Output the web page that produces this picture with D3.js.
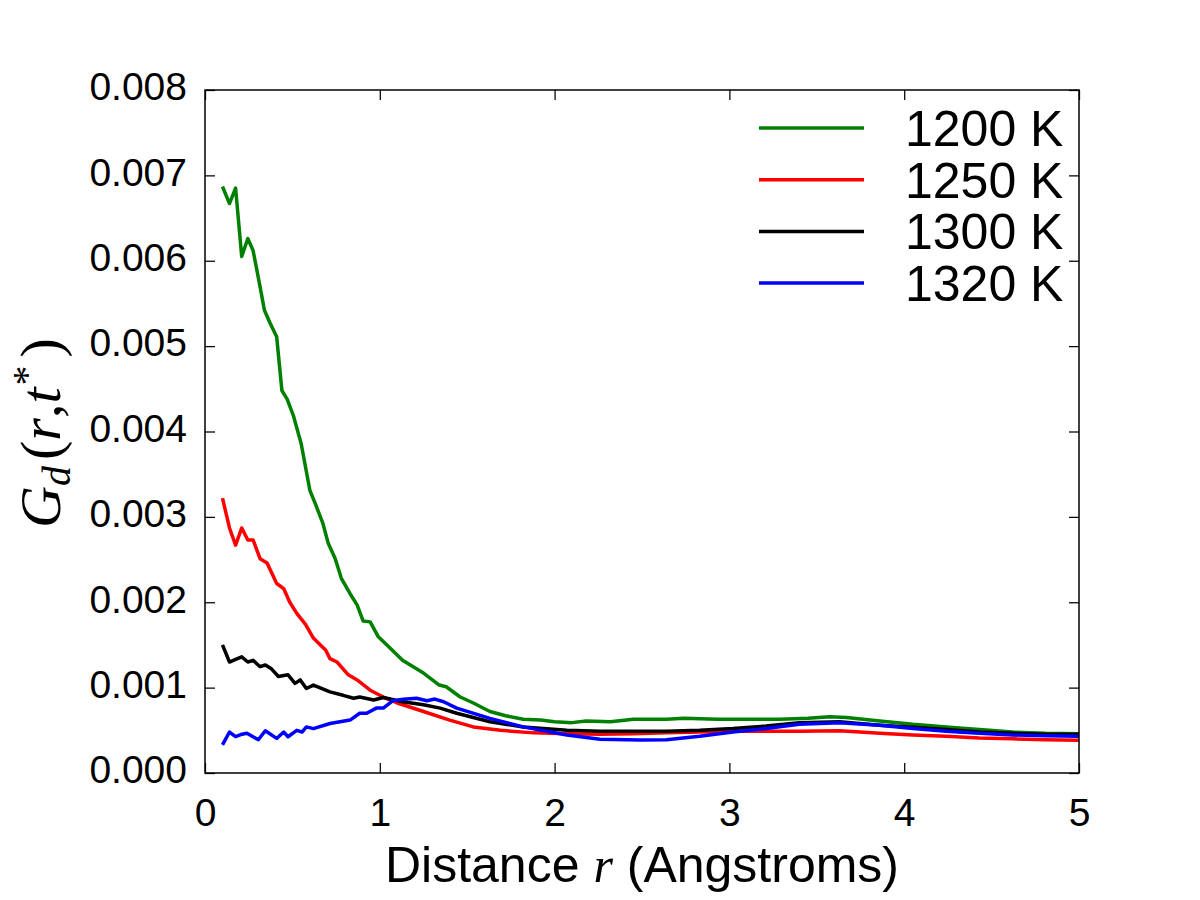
<!DOCTYPE html>
<html>
<head>
<meta charset="utf-8">
<script src="https://cdn.jsdelivr.net/npm/d3@7"></script>
<style>
  html, body { margin: 0; padding: 0; background: #fff; }
  svg { display: block; }
</style>
</head>
<body>
<svg id="chart" width="1200" height="900"></svg>
<script>
// ---- data (values in units of 0.001) ----
const r1200 = [0.10,0.14,0.175,0.21,0.245,0.275,0.31,0.34,0.37,0.41,0.44,0.47,0.505,0.55,0.60,0.63,0.675,0.705,0.745,0.78,0.83,0.87,0.905,0.945,0.99,1.06,1.13,1.25,1.34,1.38,1.46,1.535,1.63,1.72,1.82,1.92,2.0,2.1,2.18,2.32,2.45,2.64,2.74,2.93,3.12,3.29,3.45,3.575,3.67,3.86,4.05,4.24,4.43,4.62,4.81,5.0];
const g1200 = [6.87,6.67,6.85,6.05,6.26,6.12,5.75,5.42,5.28,5.11,4.48,4.38,4.19,3.86,3.31,3.16,2.92,2.69,2.51,2.28,2.10,1.97,1.78,1.77,1.60,1.46,1.32,1.17,1.03,1.01,0.89,0.82,0.72,0.67,0.63,0.62,0.60,0.59,0.61,0.60,0.63,0.63,0.64,0.63,0.63,0.63,0.64,0.66,0.65,0.61,0.57,0.54,0.51,0.48,0.465,0.46];

const r1250 = [0.10,0.14,0.175,0.21,0.245,0.275,0.315,0.355,0.41,0.45,0.485,0.525,0.575,0.62,0.66,0.69,0.715,0.755,0.82,0.87,0.945,1.02,1.10,1.25,1.40,1.535,1.69,1.88,2.07,2.26,2.45,2.64,2.83,3.02,3.21,3.40,3.63,3.86,4.05,4.24,4.43,4.62,4.81,5.0];
const g1250 = [3.22,2.87,2.67,2.87,2.73,2.73,2.51,2.46,2.22,2.16,2.00,1.87,1.74,1.58,1.50,1.44,1.34,1.30,1.15,1.09,0.97,0.89,0.82,0.72,0.62,0.54,0.50,0.47,0.46,0.455,0.46,0.47,0.48,0.49,0.49,0.49,0.495,0.465,0.445,0.43,0.41,0.40,0.39,0.385];

const r1300 = [0.10,0.14,0.175,0.21,0.245,0.275,0.315,0.345,0.38,0.42,0.475,0.515,0.545,0.58,0.62,0.715,0.79,0.85,0.885,0.965,1.02,1.13,1.25,1.345,1.44,1.63,1.82,2.07,2.26,2.45,2.64,2.83,3.02,3.21,3.40,3.63,3.86,4.05,4.24,4.43,4.62,4.81,5.0];
const g1300 = [1.50,1.30,1.33,1.36,1.30,1.32,1.245,1.265,1.22,1.13,1.15,1.05,1.09,0.99,1.03,0.95,0.91,0.875,0.89,0.855,0.885,0.835,0.80,0.76,0.70,0.60,0.54,0.50,0.49,0.49,0.49,0.50,0.52,0.55,0.59,0.60,0.56,0.535,0.51,0.48,0.465,0.455,0.455];

const r1320 = [0.10,0.14,0.175,0.205,0.24,0.305,0.345,0.41,0.45,0.475,0.525,0.555,0.58,0.62,0.715,0.83,0.885,0.925,0.98,1.02,1.075,1.135,1.21,1.27,1.315,1.365,1.44,1.63,1.82,2.07,2.26,2.49,2.64,2.83,3.02,3.21,3.40,3.63,3.86,4.05,4.24,4.43,4.62,4.81,5.0];
const g1320 = [0.33,0.48,0.425,0.45,0.465,0.39,0.495,0.405,0.48,0.425,0.50,0.48,0.54,0.52,0.58,0.62,0.70,0.70,0.76,0.76,0.847,0.863,0.875,0.847,0.866,0.835,0.76,0.64,0.54,0.445,0.395,0.386,0.39,0.43,0.48,0.52,0.57,0.59,0.56,0.52,0.49,0.465,0.445,0.435,0.43];

const seriesNames = ["1200 K","1250 K","1300 K","1320 K"];
const seriesColors = ["#008000","#ff0000","#000000","#0000ff"];
const xTicks = [0,1,2,3,4,5];
const yTicks = [0,0.001,0.002,0.003,0.004,0.005,0.006,0.007,0.008];

const seriesData = [
  [r1200, g1200],
  [r1250, g1250],
  [r1300, g1300],
  [r1320, g1320]
].map(([rs, gs]) => rs.map((r, i) => ({ r, g: gs[i] * 0.001 })));

// ---- layout ----
const L = 205, R = 1079, T = 90, B = 773;
const svg = d3.select("#chart");
const x = d3.scaleLinear().domain([0, 5]).range([L, R]);
const y = d3.scaleLinear().domain([0, 0.008]).range([B, T]);
const FONT = "'Liberation Sans', Arial, Helvetica, sans-serif";
const SERIF = "'Liberation Serif', 'Times New Roman', serif";
const tickLen = 10;

// lines (clipped to plot)
svg.append("clipPath").attr("id", "clip")
  .append("rect").attr("x", L).attr("y", T).attr("width", R - L).attr("height", B - T);

const line = d3.line().x(d => x(d.r)).y(d => y(d.g));
const gLines = svg.append("g").attr("clip-path", "url(#clip)");
seriesData.forEach((d, i) => {
  gLines.append("path")
    .datum(d)
    .attr("d", line)
    .attr("fill", "none")
    .attr("stroke", seriesColors[i])
    .attr("stroke-width", 3.5)
    .attr("stroke-linejoin", "round");
});

// axes: ticks inward on all sides
const axB = d3.axisBottom(x).tickValues(xTicks).tickSizeInner(-tickLen).tickSizeOuter(0).tickPadding(tickLen + 15).tickFormat(d3.format("d"));
const axT = d3.axisTop(x).tickValues(xTicks).tickSizeInner(-tickLen).tickSizeOuter(0).tickFormat("");
const axLft = d3.axisLeft(y).tickValues(yTicks).tickSizeInner(-tickLen).tickSizeOuter(0).tickPadding(tickLen + 8).tickFormat(d3.format(".3f"));
const axRt = d3.axisRight(y).tickValues(yTicks).tickSizeInner(-tickLen).tickSizeOuter(0).tickFormat("");

function styleAxis(g) {
  g.select(".domain").remove();
  g.selectAll(".tick line").attr("stroke", "#000").attr("stroke-width", 1.25);
  g.selectAll("text").attr("font-family", FONT).attr("font-size", 39).attr("fill", "#000");
}
svg.append("g").attr("transform", `translate(0,${B})`).call(axB).call(styleAxis);
svg.append("g").attr("transform", `translate(0,${T})`).call(axT).call(styleAxis);
const gl = svg.append("g").attr("transform", `translate(${L},0)`).call(axLft).call(styleAxis);
gl.selectAll(".tick text").attr("dy", "0.25em");
svg.append("g").attr("transform", `translate(${R},0)`).call(axRt).call(styleAxis);

// frame
svg.append("rect").attr("x", L).attr("y", T).attr("width", R - L).attr("height", B - T)
  .attr("fill", "none").attr("stroke", "#000").attr("stroke-width", 1.5);

// x label
const xl = svg.append("text")
  .attr("x", (L + R) / 2).attr("y", 882)
  .attr("text-anchor", "middle")
  .attr("font-family", FONT).attr("font-size", 50).attr("fill", "#000");
xl.append("tspan").text("Distance ");
xl.append("tspan").attr("font-family", SERIF).attr("font-style", "italic").text("r");
xl.append("tspan").text(" (Angstroms)");

// y label: G_d(r,t*)
const yl = svg.append("text")
  .attr("transform", "translate(60,433) rotate(-90)")
  .attr("text-anchor", "middle")
  .attr("font-family", SERIF).attr("font-size", 58).attr("fill", "#000");
yl.append("tspan").attr("font-style", "italic").text("G");
yl.append("tspan").attr("font-style", "italic").attr("font-size", 40).attr("dy", 10).text("d");
yl.append("tspan").attr("dy", -10).attr("dx", 6).text("(");
yl.append("tspan").attr("font-style", "italic").text("r");
yl.append("tspan").text(",");
yl.append("tspan").attr("font-style", "italic").text("t");
yl.append("tspan").attr("font-size", 40).attr("dy", -20).attr("dx", 2).text("*");
yl.append("tspan").attr("dy", 20).attr("dx", 8).text(")");

// legend
const legY0 = 128, legDy = 51.7;
seriesNames.forEach((name, i) => {
  const yy = legY0 + i * legDy;
  svg.append("line").attr("x1", 759).attr("x2", 864).attr("y1", yy).attr("y2", yy)
    .attr("stroke", seriesColors[i]).attr("stroke-width", 3.5);
  svg.append("text").attr("x", 905).attr("y", yy + 18)
    .attr("font-family", FONT).attr("font-size", 50).attr("fill", "#000").text(name);
});
</script>
</body>
</html>
